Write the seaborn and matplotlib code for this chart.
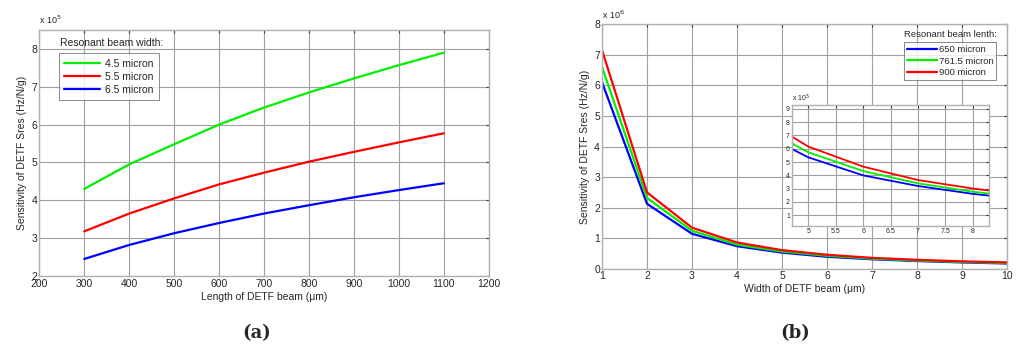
import numpy as np
import pandas as pd
import matplotlib
matplotlib.use('Agg')
import matplotlib.pyplot as plt
import seaborn as sns

# (a) sensitivity vs beam length, values in units of 1e5 Hz/N/g
length_um = [300, 400, 500, 600, 700, 800, 900, 1000, 1100]
sens_w45 = [4.30, 4.95, 5.48, 6.00, 6.45, 6.85, 7.22, 7.57, 7.90]
sens_w55 = [3.18, 3.65, 4.05, 4.42, 4.73, 5.02, 5.28, 5.53, 5.77]
sens_w65 = [2.45, 2.82, 3.13, 3.40, 3.65, 3.87, 4.08, 4.27, 4.45]

# (b) sensitivity vs beam width, values in units of 1e6 Hz/N/g
width_um = [1, 2, 3, 4, 5, 6, 7, 8, 9, 10]
sens_l650 = [6.10, 2.13, 1.15, 0.745, 0.535, 0.399, 0.319, 0.260, 0.215, 0.180]
sens_l7615 = [6.60, 2.32, 1.25, 0.796, 0.573, 0.432, 0.339, 0.276, 0.230, 0.195]
sens_l900 = [7.15, 2.50, 1.35, 0.866, 0.616, 0.465, 0.364, 0.300, 0.250, 0.215]

labels_a = ['4.5 micron', '5.5 micron', '6.5 micron']
labels_b = ['650 micron', '761.5 micron', '900 micron']

sns.set_style('white')
plt.rcParams['font.family'] = ['Liberation Sans', 'DejaVu Sans']

GRID = '#a0a0a0'
SPINE = '#b0b0b0'


def matlab_axes(ax, fs=7.5):
    ax.grid(True, color=GRID, linewidth=0.8)
    ax.set_axisbelow(True)
    for s in ax.spines.values():
        s.set_color(SPINE)
        s.set_linewidth(1.0)
    ax.tick_params(direction='in', length=2.5, width=0.8, color='#333333',
                   top=True, right=True, labelsize=fs, pad=1.5)


fig = plt.figure(figsize=(10.24, 3.51), dpi=100)

# ---- panel (a)
ax1 = fig.add_axes([0.0384, 0.2137, 0.4389, 0.7009])
df_a = pd.DataFrame({'x': length_um * 3,
                     'y': sens_w45 + sens_w55 + sens_w65,
                     'series': sum([[l] * len(length_um) for l in labels_a], [])})
sns.lineplot(data=df_a, x='x', y='y', hue='series', ax=ax1,
             palette=['#00ee00', '#ff0000', '#0000ff'], linewidth=1.6)
ax1.set_xlim(200, 1200)
ax1.set_ylim(2, 8.5)
ax1.set_xticks(range(200, 1201, 100))
ax1.set_yticks(range(2, 9))
matlab_axes(ax1)
ax1.tick_params(axis='x', pad=2.5)
ax1.set_xlabel('Length of DETF beam (μm)', fontsize=7.5, labelpad=2)
ax1.set_ylabel('Sensitivity of DETF Sres (Hz/N/g)', fontsize=7.5, labelpad=3)
ax1.text(0.0, 1.015, r'x 10$^5$', transform=ax1.transAxes, fontsize=6.5, ha='left', va='bottom')
ax1.text(0.045, 0.925, 'Resonant beam width:', transform=ax1.transAxes, fontsize=7.5,
         ha='left', va='bottom')
leg = ax1.legend(loc='upper left', bbox_to_anchor=(0.044, 0.905), fontsize=7.5,
                 frameon=True, fancybox=False, borderaxespad=0, handlelength=3.4,
                 labelspacing=0.3, borderpad=0.5, handletextpad=0.5)
leg.get_frame().set_edgecolor('#555555')
leg.get_frame().set_linewidth(0.6)

# ---- panel (b)
ax2 = fig.add_axes([0.5879, 0.2336, 0.3955, 0.698])
df_b = pd.DataFrame({'x': width_um * 3,
                     'y': sens_l650 + sens_l7615 + sens_l900,
                     'series': sum([[l] * len(width_um) for l in labels_b], [])})
sns.lineplot(data=df_b, x='x', y='y', hue='series', ax=ax2,
             palette=['#0000ff', '#00ee00', '#ff0000'], linewidth=1.6)
ax2.set_xlim(1, 10)
ax2.set_ylim(0, 8)
ax2.set_xticks(range(1, 11))
ax2.set_yticks(range(0, 9))
matlab_axes(ax2)
ax2.set_xlabel('Width of DETF beam (μm)', fontsize=7.5, labelpad=2)
ax2.set_ylabel('Sensitivity of DETF Sres (Hz/N/g)', fontsize=7.5, labelpad=3)
ax2.text(0.0, 1.012, r'x 10$^6$', transform=ax2.transAxes, fontsize=6.5, ha='left', va='bottom')
ax2.text(0.745, 0.94, 'Resonant beam lenth:', transform=ax2.transAxes, fontsize=6.8,
         ha='left', va='bottom')
leg2 = ax2.legend(loc='upper left', bbox_to_anchor=(0.746, 0.925), fontsize=6.8,
                  frameon=True, fancybox=False, borderaxespad=0, handlelength=3.2,
                  labelspacing=0.25, borderpad=0.3, handletextpad=0.15)
leg2.get_frame().set_edgecolor('#555555')
leg2.get_frame().set_linewidth(0.6)

# ---- inset of (b), units of 1e5
ax3 = fig.add_axes([0.7734, 0.357, 0.1927, 0.344])
df_c = df_b.copy()
df_c['y'] = df_c['y'] * 10
sns.lineplot(data=df_c, x='x', y='y', hue='series', ax=ax3, legend=False,
             palette=['#0000ff', '#00ee00', '#ff0000'], linewidth=1.3)
ax3.set_xlim(4.7, 8.3)
ax3.set_ylim(0.2, 9.3)
ax3.set_xticks(np.arange(5, 8.01, 0.5))
ax3.set_xticklabels(['5', '5.5', '6', '6.5', '7', '7.5', '8'])
ax3.set_yticks(range(1, 10))
matlab_axes(ax3, fs=5)
ax3.set_facecolor('white')
ax3.set_xlabel('')
ax3.set_ylabel('')
ax3.text(0.0, 1.01, r'x 10$^5$', transform=ax3.transAxes, fontsize=5, ha='left', va='bottom')

fig.text(257 / 1024, 1 - 333 / 351, '(a)', fontsize=13, fontweight='bold',
         family='DejaVu Serif', ha='center', va='center')
fig.text(795 / 1024, 1 - 333 / 351, '(b)', fontsize=13, fontweight='bold',
         family='DejaVu Serif', ha='center', va='center')

fig.savefig('out.png', dpi=100)
